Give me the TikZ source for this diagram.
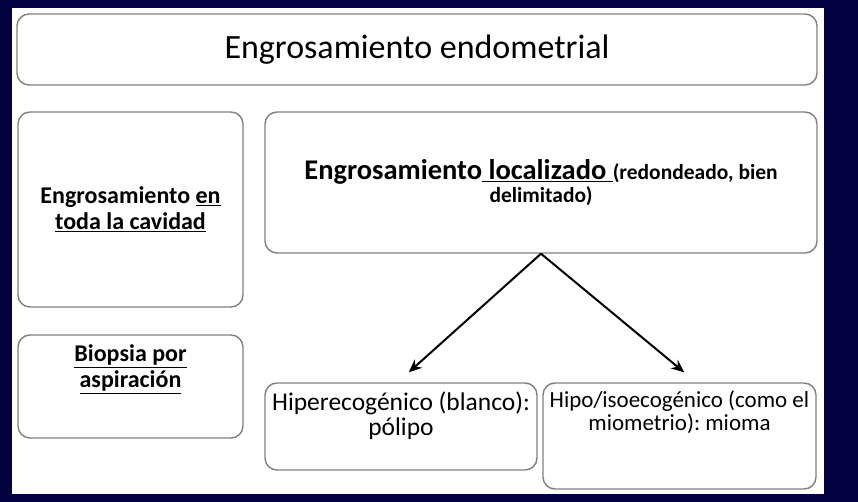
\documentclass[tikz,border=0pt]{standalone}
\usepackage{fontspec}
\setmainfont{Carlito}
\usetikzlibrary{arrows.meta,positioning}
\definecolor{fondo}{HTML}{03013F}
\definecolor{borde}{HTML}{808080}
\newcommand{\arriba}[4]{\parbox[c][#1][t]{#2}{\centering\vspace*{#3}#4}}
\frenchspacing
\tikzset{
  caja/.style={draw=borde, line width=1.4pt, rounded corners=12pt, fill=white,
               inner sep=0pt, align=center},
  flecha/.style={->, line width=2pt, shorten >=1pt}
}

\begin{document}
\begin{tikzpicture}[x=1pt,y=1pt,>={Stealth[length=13pt,width=11pt]}]
   \useasboundingbox (0,0) rectangle (858,502);
   \fill[fondo] (0,0) rectangle (858,502);
   \fill[white] (12,8) rectangle (824,494);
   % cajas
   \node[caja, minimum width=800, minimum height=71,
         font=\fontsize{34}{36}\selectfont] (titulo) at (417,452.5)
         {Engrosamiento endometrial};
   \node[caja, minimum width=225, minimum height=195,
         font=\fontsize{24}{26}\selectfont\bfseries] (toda) at (130.5,292.5)
         {Engrosamiento \underline{en}\\ \underline{toda la cavidad}};
   \node[caja, minimum width=552, minimum height=141,
         font=\fontsize{21.5}{23}\selectfont\bfseries] (local) at (541,319.5)
         {{\fontsize{28.5}{30}\selectfont Engrosamiento\underline{ localizado }}(redondeado, bien\\ delimitado)};
   \node[caja, font=\fontsize{24}{26}\selectfont\bfseries] (biopsia) at (130.5,115.5)
         {\arriba{103pt}{225pt}{10pt}{\underline{Biopsia por}\\ \underline{aspiración}}};
   \node[caja, font=\fontsize{25.5}{25}\selectfont] (hiper) at (401,75.5)
         {\arriba{87pt}{272pt}{9pt}{Hiperecogénico (blanco):\\ pólipo}};
   \node[caja, font=\fontsize{23}{23}\selectfont] (hipo) at (679.5,66)
         {\arriba{106pt}{273pt}{8pt}{Hipo/isoecogénico (como el\\ miometrio): mioma}};
   % flechas
   \coordinate (puntaI) at (408,129);
   \coordinate (puntaD) at (685,129);
   \draw[flecha] (local.south) -- (puntaI);
   \draw[flecha] (local.south) -- (puntaD);
\end{tikzpicture}
\end{document}
